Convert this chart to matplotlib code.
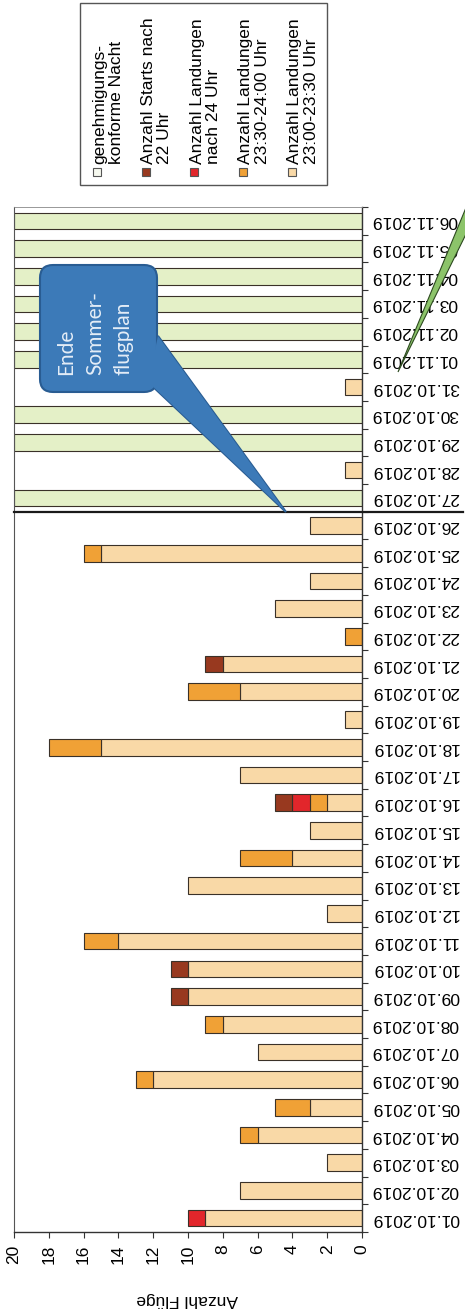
import matplotlib
matplotlib.use("Agg")
import matplotlib.pyplot as plt
import numpy as np
from matplotlib.patches import Rectangle, FancyBboxPatch, Polygon
from matplotlib.transforms import blended_transform_factory

plt.rcParams['font.family'] = ['Liberation Sans', 'DejaVu Sans']

# ---------------- data ----------------
dates = ["01.10.2019", "02.10.2019", "03.10.2019", "04.10.2019", "05.10.2019",
         "06.10.2019", "07.10.2019", "08.10.2019", "09.10.2019", "10.10.2019",
         "11.10.2019", "12.10.2019", "13.10.2019", "14.10.2019", "15.10.2019",
         "16.10.2019", "17.10.2019", "18.10.2019", "19.10.2019", "20.10.2019",
         "21.10.2019", "22.10.2019", "23.10.2019", "24.10.2019", "25.10.2019",
         "26.10.2019", "27.10.2019", "28.10.2019", "29.10.2019", "30.10.2019",
         "31.10.2019", "01.11.2019", "02.11.2019", "03.11.2019", "04.11.2019",
         "05.11.2019", "06.11.2019"]
landungen_2300_2330 = [9, 7, 2, 6, 3, 12, 6, 8, 10, 10, 14, 2, 10, 4, 3, 2, 7, 15, 1, 7,
                       8, 0, 5, 3, 15, 3, 0, 1, 0, 0, 1, 0, 0, 0, 0, 0, 0]
landungen_2330_2400 = [0, 0, 0, 1, 2, 1, 0, 1, 0, 0, 2, 0, 0, 3, 0, 1, 0, 3, 0, 3,
                       0, 1, 0, 0, 1, 0, 0, 0, 0, 0, 0, 0, 0, 0, 0, 0, 0]
landungen_nach_24 = [1, 0, 0, 0, 0, 0, 0, 0, 0, 0, 0, 0, 0, 0, 0, 1, 0, 0, 0, 0,
                     0, 0, 0, 0, 0, 0, 0, 0, 0, 0, 0, 0, 0, 0, 0, 0, 0]
starts_nach_22 = [0, 0, 0, 0, 0, 0, 0, 0, 1, 1, 0, 0, 0, 0, 0, 1, 0, 0, 0, 0,
                  1, 0, 0, 0, 0, 0, 0, 0, 0, 0, 0, 0, 0, 0, 0, 0, 0]
genehmigungskonform = [0, 0, 0, 0, 0, 0, 0, 0, 0, 0, 0, 0, 0, 0, 0, 0, 0, 0, 0, 0,
                       0, 0, 0, 0, 0, 0, 20, 0, 20, 20, 0, 20, 20, 20, 20, 20, 20]
value_ticks = [0, 2, 4, 6, 8, 10, 12, 14, 16, 18, 20]
legend_labels = ["genehmigungs-\nkonforme Nacht", "Anzahl Starts nach\n22 Uhr",
                 "Anzahl Landungen\nnach 24 Uhr", "Anzahl Landungen\n23:30-24:00 Uhr",
                 "Anzahl Landungen\n23:00-23:30 Uhr"]
sep_position = 25.5   # between 26.10 and 27.10 (end of summer schedule)

# ---------------- styles ----------------
C_GREEN = '#e4f0c7'
C_TAN = '#f9d9a7'
C_ORANGE = '#f0a136'
C_RED = '#e2262b'
C_BROWN = '#98391f'
EDGE = '#3a3128'
FS = 12.5

W, H = 465, 1314
fig = plt.figure(figsize=(W / 100, H / 100), dpi=100)
ax = fig.add_axes([14 / W, 1 - 1232 / H, (362 - 14) / W, (1232 - 207) / H])

y = np.arange(len(dates))
bh = 0.6

g = np.array(genehmigungskonform, dtype=float)
m = g > 0
ax.barh(y[m], g[m], height=bh, color=C_GREEN, edgecolor=EDGE, linewidth=0.8)

left = np.zeros(len(dates))
for vals, col in [(landungen_2300_2330, C_TAN), (landungen_2330_2400, C_ORANGE),
                  (landungen_nach_24, C_RED), (starts_nach_22, C_BROWN)]:
    v = np.array(vals, dtype=float)
    mm = v > 0
    ax.barh(y[mm], v[mm], left=left[mm], height=bh, color=col,
            edgecolor=EDGE, linewidth=0.8)
    left += v

ax.set_xlim(20, 0)
ax.set_ylim(-0.5, len(dates) - 0.5)

# category axis (right side, upside-down labels)
ax.yaxis.tick_right()
ax.set_yticks(y)
ax.set_yticklabels(dates, rotation=180, fontsize=FS, va='center')
ax.tick_params(axis='y', which='major', length=0, pad=7)
ax.set_yticks(np.arange(-0.5, len(dates), 1.0), minor=True)
ax.tick_params(axis='y', which='minor', length=4, direction='out',
               right=True, left=False, color='#333333', width=0.8)

# value axis (bottom, rotated labels)
ax.set_xticks(value_ticks)
ax.set_xticklabels([str(t) for t in value_ticks], rotation=90, fontsize=FS)
ax.tick_params(axis='x', length=4, pad=5, color='#333333', width=0.8)
ax.set_xlabel('Anzahl Flüge', rotation=180, fontsize=FS, va='center', ha='center')
ax.xaxis.set_label_coords(0.497, -0.066)

for s in ['right', 'bottom']:
    ax.spines[s].set_color('#333333')
    ax.spines[s].set_linewidth(1.0)
ax.spines['left'].set_color('#555555')
ax.spines['left'].set_linewidth(0.8)
ax.spines['top'].set_color('#888888')
ax.spines['top'].set_linewidth(0.6)

# separator line (end of summer schedule)
trans = blended_transform_factory(ax.transAxes, ax.transData)
ax.plot([0, 1.29], [sep_position, sep_position], transform=trans,
        color='#1a1a1a', lw=1.6, clip_on=False, zorder=4)

# ---------------- helpers in pixel coords ----------------
T = fig.dpi_scale_trans


def P(x, yy):
    return (x / 100, (H - yy) / 100)


# ---------------- legend ----------------
x0, y0, x1, y1 = 80, 3, 327, 185
fig.add_artist(Rectangle(P(x0, y1), (x1 - x0) / 100, (y1 - y0) / 100, transform=T,
                         facecolor='white', edgecolor='#555555', lw=1.0, zorder=3))
leg_colors = ['#f6f9ef', C_BROWN, C_RED, C_ORANGE, C_TAN]
for i, (lab, col) in enumerate(zip(legend_labels, leg_colors)):
    mx = 97 + 48.7 * i
    fig.add_artist(Rectangle(P(mx - 4, 176), 0.08, 0.08, transform=T,
                             facecolor=col, edgecolor='#555555', lw=0.8, zorder=4))
    fig.text(*P(mx + 11, 164), lab, transform=T, rotation=90, rotation_mode='anchor',
             ha='left', va='center', multialignment='left', fontsize=FS,
             linespacing=1.12, zorder=4)

# ---------------- blue callout ----------------
C_BLUE = '#3c7ab8'
E_BLUE = '#295c92'
ptr = [P(158, 336), P(148, 382), P(286, 512)]
fig.add_artist(Polygon(ptr, closed=True, transform=T, facecolor=C_BLUE,
                       edgecolor=E_BLUE, lw=1.5, zorder=5))
fig.add_artist(FancyBboxPatch(P(40, 392), 1.17, 1.27,
                              boxstyle='round,pad=0,rounding_size=0.13', transform=T,
                              facecolor=C_BLUE, edgecolor=E_BLUE, lw=1.5, zorder=6))
fig.add_artist(Polygon(ptr, closed=True, transform=T, facecolor=C_BLUE,
                       edgecolor='none', zorder=7))
fig.text(*P(95, 375), "Ende\nSommer-\nflugplan", transform=T, rotation=90,
         ha='center', va='bottom', multialignment='left', fontsize=15,
         family=['Lato', 'DejaVu Sans'], color='#e4edf7', linespacing=1.55, zorder=8)

# ---------------- green callout (cut off) ----------------
fig.add_artist(Polygon([P(398, 372), P(470, 198), P(470, 226)], closed=True, transform=T,
                       facecolor='#8cc46a', edgecolor='#2d4a20', lw=0.8, zorder=5))

fig.savefig('out.png', dpi=100)
